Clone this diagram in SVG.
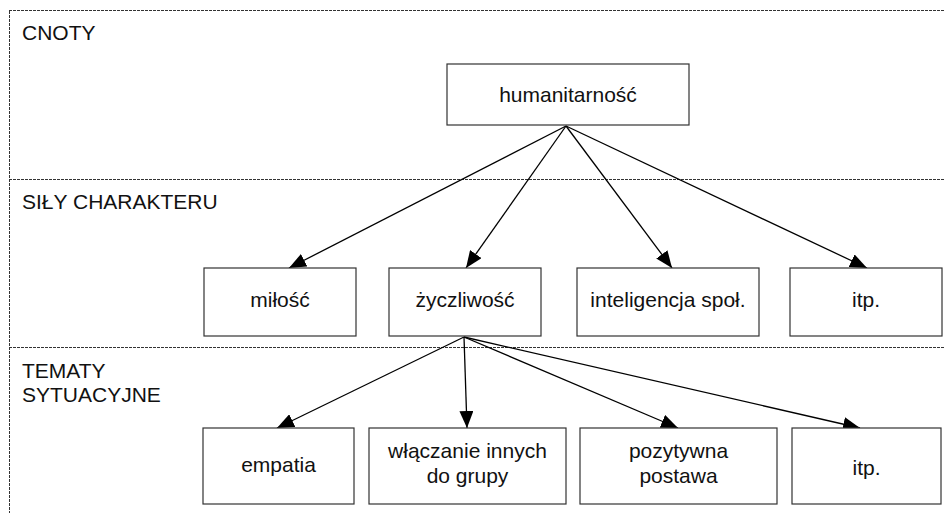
<svg xmlns="http://www.w3.org/2000/svg" width="944" height="513" viewBox="0 0 944 513">
<style>
  .frame { fill: none; stroke: #333; stroke-width: 1; stroke-dasharray: 3,1; }
  .box { fill: #fff; stroke: #333; stroke-width: 1.2; }
  .lbl { font-family: "Liberation Sans", Arial, sans-serif; font-size: 21px; fill: #111; }
  .t { font-family: "Liberation Sans", Arial, sans-serif; font-size: 21px; fill: #111; text-anchor: middle; }
  .edge { stroke: #000; stroke-width: 1.3; fill: none; marker-end: url(#arrow); }
</style>
<defs>
  <marker id="arrow" markerUnits="userSpaceOnUse" markerWidth="18" markerHeight="14" refX="17" refY="7" orient="auto">
    <path d="M0,0 L17,7 L0,14 z" fill="#000"/>
  </marker>
</defs>
<rect width="944" height="513" fill="#fff"/>
<g id="frames">
  <line class="frame" x1="9.5" y1="11" x2="9.5" y2="513"/>
  <line class="frame" x1="9" y1="10.5" x2="944" y2="10.5"/>
  <line class="frame" x1="9" y1="179.5" x2="944" y2="179.5"/>
  <line class="frame" x1="9" y1="347.5" x2="944" y2="347.5"/>
  <text class="lbl" x="22" y="40">CNOTY</text>
  <text class="lbl" x="22" y="209">SIŁY CHARAKTERU</text>
  <text class="lbl" x="22" y="378">TEMATY</text>
  <text class="lbl" x="22" y="402">SYTUACYJNE</text>
</g>
<g id="connectors">
  <line class="edge" x1="566" y1="126" x2="289" y2="268"/>
  <line class="edge" x1="566" y1="126" x2="466" y2="268"/>
  <line class="edge" x1="566" y1="126" x2="672" y2="268"/>
  <line class="edge" x1="566" y1="126" x2="867" y2="268"/>
  <line class="edge" x1="464" y1="337" x2="277" y2="428"/>
  <line class="edge" x1="464" y1="337" x2="467" y2="428"/>
  <line class="edge" x1="464" y1="337" x2="678" y2="428"/>
  <line class="edge" x1="464" y1="337" x2="860" y2="428"/>
</g>
<g id="humanitarnosc">
  <rect class="box" x="447" y="64" width="242" height="61"/>
  <text class="t" x="568" y="102">humanitarność</text>
</g>
<g id="milosc">
  <rect class="box" x="204" y="268" width="152" height="68"/>
  <text class="t" x="280" y="307">miłość</text>
</g>
<g id="zyczliwosc">
  <rect class="box" x="389" y="268" width="152" height="68"/>
  <text class="t" x="465" y="307">życzliwość</text>
</g>
<g id="inteligencja">
  <rect class="box" x="577" y="268" width="182" height="68"/>
  <text class="t" x="668" y="307">inteligencja społ.</text>
</g>
<g id="itp1">
  <rect class="box" x="790" y="268" width="152" height="68"/>
  <text class="t" x="866" y="307">itp.</text>
</g>
<g id="empatia">
  <rect class="box" x="203" y="428" width="151" height="76"/>
  <text class="t" x="278.5" y="472">empatia</text>
</g>
<g id="wlaczanie">
  <rect class="box" x="369" y="428" width="197" height="76"/>
  <text class="t" x="467.5" y="458">włączanie innych</text>
  <text class="t" x="467.5" y="483">do grupy</text>
</g>
<g id="pozytywna">
  <rect class="box" x="580" y="428" width="197" height="76"/>
  <text class="t" x="678.5" y="458">pozytywna</text>
  <text class="t" x="678.5" y="483">postawa</text>
</g>
<g id="itp2">
  <rect class="box" x="792" y="428" width="149" height="76"/>
  <text class="t" x="866.5" y="475">itp.</text>
</g>
</svg>
